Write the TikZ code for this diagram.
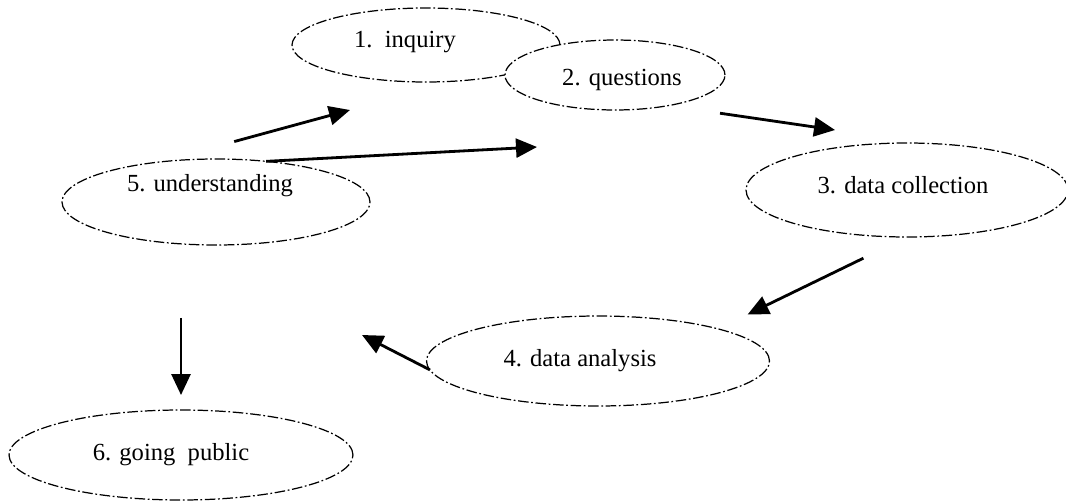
\documentclass[tikz,border=0pt]{standalone}
\usepackage{fontspec}
\setmainfont{Liberation Serif}
\usetikzlibrary{shapes.geometric,arrows.meta,calc}

\begin{document}
\begin{tikzpicture}[x=0.02cm,y=-0.02cm,
  font=\fontsize{14}{16}\selectfont,
  stage/.style={ellipse,draw,fill=white,line width=0.7pt,
    dash pattern=on 6pt off 1.5pt on 1pt off 1.5pt,inner sep=0pt,outer sep=0pt},
  flow/.style={line width=1.6pt,-{Triangle[length=0.42cm,width=0.38cm]}}]
\useasboundingbox (0,0) rectangle (1066,504);

% stages of the cycle
\node[stage,minimum width=5.36cm,minimum height=1.48cm,
  label={[xshift=-0.42cm,yshift=0.06cm]center:1.~~inquiry}] (inq) at (426,45) {};
\node[stage,minimum width=4.4cm,minimum height=1.4cm,
  label={[xshift=0.14cm,yshift=-0.1cm]center:2. questions}] (que) at (615,75) {};
\node[stage,minimum width=6.44cm,minimum height=1.88cm,
  label={[xshift=-0.08cm,yshift=0.1cm]center:3. data collection}] (col) at (907,190) {};
\node[stage,minimum width=6.86cm,minimum height=1.8cm,
  label={[xshift=-0.36cm]center:4. data analysis}] (ana) at (598,361) {};
\node[stage,minimum width=6.16cm,minimum height=1.72cm,
  label={[xshift=-0.12cm,yshift=0.32cm]center:5. understanding}] (und) at (216,202) {};
\node[stage,minimum width=6.88cm,minimum height=1.8cm,
  label={[xshift=-0.2cm]center:6. going\hspace{0.5em}public}] (gp) at (181,455) {};

% free arrow tips
\coordinate (atip) at (350,110);
\coordinate (btip) at (537,147);
\coordinate (ctip) at (835,130);
\coordinate (dtip) at (362,335);

% arrows
\draw[flow,shorten <=1.56cm] (und.145) -- (atip);
\draw[flow] (und.39) -- (btip);
\draw[flow,shorten <=1.05cm] (que.330) -- (ctip);
\draw[flow,shorten <=0.97cm,shorten >=0.66cm] (col.south) -- (ana.15);
\draw[flow] (ana.183) -- (dtip);
\draw[flow,shorten <=1.46cm,shorten >=0.3cm] (und.south -| gp.north) -- (gp.north);
\end{tikzpicture}
\end{document}
